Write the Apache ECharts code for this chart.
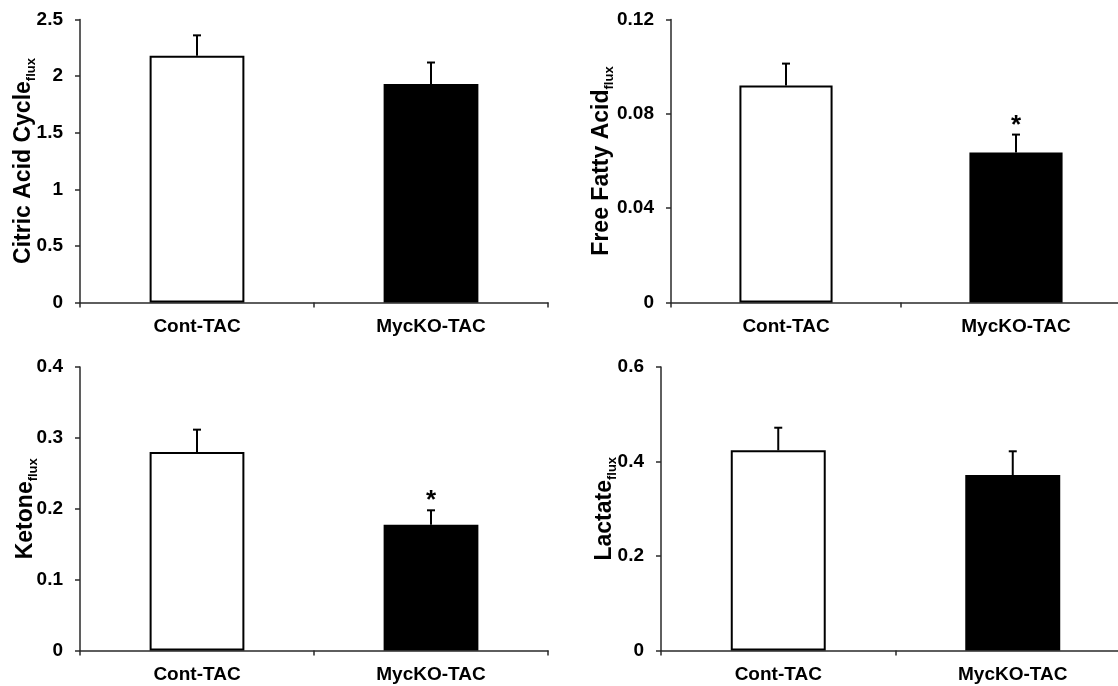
<!DOCTYPE html>
<html><head><meta charset="utf-8">
<script src="https://cdn.jsdelivr.net/npm/echarts@6/dist/echarts.min.js"></script>
<style>html,body{margin:0;padding:0;background:#fff}#c{width:1118px;height:686px}</style>
</head><body><div id="c"></div>
<script>
// ---- data ----
const categories = ['Cont-TAC', 'MycKO-TAC'];
const citricMean = [2.18, 1.93];
const citricErr = [0.18, 0.19];
const ffaMean = [0.092, 0.0636];
const ffaErr = [0.0093, 0.0076];
const ketoneMean = [0.28, 0.1775];
const ketoneErr = [0.0316, 0.0203];
const lactateMean = [0.4237, 0.3714];
const lactateErr = [0.0478, 0.0502];
const citricSig = ['', ''];
const ffaSig = ['', '*'];
const ketoneSig = ['', '*'];
const lactateSig = ['', ''];
const yMax = [2.5, 0.12, 0.4, 0.6];
const yInterval = [0.5, 0.04, 0.1, 0.2];
const yNames = ['Citric Acid Cycle', 'Free Fatty Acid', 'Ketone', 'Lactate'];
const ySub = 'flux';

const panels = [
  {mean: citricMean, err: citricErr, sig: citricSig},
  {mean: ffaMean, err: ffaErr, sig: ffaSig},
  {mean: ketoneMean, err: ketoneErr, sig: ketoneSig},
  {mean: lactateMean, err: lactateErr, sig: lactateSig}
];

const FONT = '"Liberation Sans", Arial, sans-serif';
const AX = '#2a2a2a';
const grids = [
  {left: 80, top: 19.5, width: 468, height: 283, outerBoundsMode: 'none', containLabel: false},
  {left: 671, top: 19.5, width: 460, height: 283, outerBoundsMode: 'none', containLabel: false},
  {left: 80, top: 367, width: 468, height: 283.5, outerBoundsMode: 'none', containLabel: false},
  {left: 661, top: 367, width: 469, height: 283.5, outerBoundsMode: 'none', containLabel: false}
];
const nameGaps = [42, 55, 40, 42];

const xAxes = [], yAxes = [], series = [];
panels.forEach((p, i) => {
  xAxes.push({
    type: 'category', gridIndex: i, data: categories,
    axisLine: {show: true, lineStyle: {color: AX, width: 1.5}},
    axisTick: {show: true, length: 5, lineStyle: {color: AX, width: 1.5}},
    axisLabel: {margin: 15, fontSize: 19, fontWeight: 'bold', color: '#000', fontFamily: FONT},
    splitLine: {show: false}
  });
  yAxes.push({
    type: 'value', gridIndex: i, min: 0, max: yMax[i], interval: yInterval[i],
    axisLine: {show: true, lineStyle: {color: AX, width: 1.5}},
    axisTick: {show: true, length: 5, lineStyle: {color: AX, width: 1.5}},
    axisLabel: {margin: 17, fontSize: 19, fontWeight: 'bold', color: '#000', fontFamily: FONT},
    splitLine: {show: false},
    name: '{a|' + yNames[i] + '}{b|' + ySub + '}',
    nameLocation: 'middle', nameRotate: 90, nameGap: nameGaps[i],
    nameMoveOverlap: false,
    nameTextStyle: {
      rich: {
        a: {fontSize: 23, fontWeight: 'bold', color: '#000', fontFamily: FONT, lineHeight: 28},
        b: {fontSize: 13, fontWeight: 'bold', color: '#000', fontFamily: FONT, lineHeight: 13, verticalAlign: 'bottom'}
      }
    }
  });
  series.push({
    type: 'bar', xAxisIndex: i, yAxisIndex: i, barWidth: '40.5%',
    data: p.mean.map((v, k) => ({
      value: v,
      itemStyle: {color: k === 0 ? '#fff' : '#000', borderColor: '#000', borderWidth: 2}
    })),
    silent: true, animation: false
  });
  series.push({
    type: 'custom', xAxisIndex: i, yAxisIndex: i,
    data: p.mean.map((v, k) => [k, v, v + p.err[k]]),
    renderItem: (params, api) => {
      const x = api.value(0);
      const base = api.coord([x, api.value(1)]);
      const top = api.coord([x, api.value(2)]);
      const st = {stroke: '#000', lineWidth: 2};
      const children = [
        {type: 'line', shape: {x1: base[0], y1: base[1], x2: top[0], y2: top[1]}, style: st},
        {type: 'line', shape: {x1: top[0] - 4, y1: top[1], x2: top[0] + 4, y2: top[1]}, style: st}
      ];
      const s = p.sig[params.dataIndex];
      if (s) {
        children.push({type: 'text', x: top[0], y: top[1] - 9,
          style: {text: s, fill: '#000', font: 'bold 26px ' + FONT, textAlign: 'center', textVerticalAlign: 'middle'}});
      }
      return {type: 'group', children};
    },
    silent: true, animation: false, z: 5
  });
});

const chart = echarts.init(document.getElementById('c'), null, {renderer: 'canvas'});
chart.setOption({
  backgroundColor: '#fff',
  animation: false,
  textStyle: {fontFamily: FONT},
  grid: grids,
  xAxis: xAxes,
  yAxis: yAxes,
  series: series
});
</script>
</body></html>
